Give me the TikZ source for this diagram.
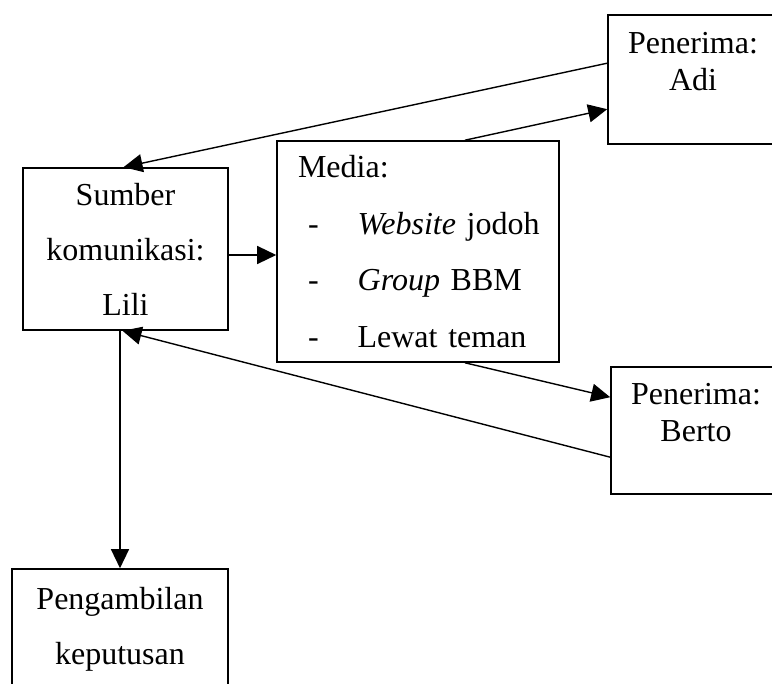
\documentclass[tikz,border=0pt]{standalone}
\usepackage{fontspec}
\setmainfont{Liberation Serif}
\usetikzlibrary{arrows.meta}
\tikzstyle{kotak} = [draw=black, line width=1.6pt, rectangle, inner sep=0pt,
    align=center, font=\fontsize{32}{55}\selectfont]
\tikzstyle{penerima} = [kotak, font=\fontsize{32}{36.5}\selectfont]
\tikzstyle{panah} = [line width=1.4pt, -{Triangle[length=19pt,width=18pt]}]

\begin{document}
\begin{tikzpicture}[x=1pt,y=1pt]
    \useasboundingbox (0,0) rectangle (772,-684);
    \clip (0,0) rectangle (772,-684);
    % kotak-kotak
    \node[penerima, minimum width=170pt, minimum height=129pt] (adi) at (693,-79.5) {Penerima:\\Adi\\\mbox{}};
    \node[kotak, minimum width=205pt, minimum height=162pt] (sumber) at (125.5,-249) {Sumber\\komunikasi:\\Lili};
    \node[kotak, minimum width=282pt, minimum height=221pt, text width=250pt, align=left,
        font=\fontsize{32}{56.5}\selectfont] (media) at (418,-251.5) {\hspace*{5pt}Media:\\
        \hspace*{15pt}-\hspace{39pt}\textit{Website} jodoh\\
        \hspace*{15pt}-\hspace{39pt}\textit{Group} BBM\\
        \hspace*{15pt}-\hspace{39pt}Lewat teman};
    \node[penerima, minimum width=170pt, minimum height=127pt] (berto) at (696,-430.5) {Penerima:\\Berto\\\mbox{}};
    \node[kotak, minimum width=216pt, minimum height=120pt] (keputusan) at (120,-629) {Pengambilan\\keputusan};
    % panah
    \coordinate (s1) at ([yshift=-6pt]sumber.east);
    \draw[panah] ([yshift=-49pt]adi.north west) -- ([xshift=-2pt]sumber.north);
    \draw[panah] (s1) -- (s1 -| media.west);
    \draw[panah] ([xshift=47pt]media.north) -- ([yshift=-95pt]adi.north west);
    \draw[panah] ([xshift=47pt]media.south) -- ([yshift=-31pt]berto.north west);
    \draw[panah] ([yshift=-91pt]berto.north west) -- ([xshift=-3pt]sumber.south);
    \draw[panah] (sumber.south -| keputusan.north) -- (keputusan.north);
\end{tikzpicture}
\end{document}
